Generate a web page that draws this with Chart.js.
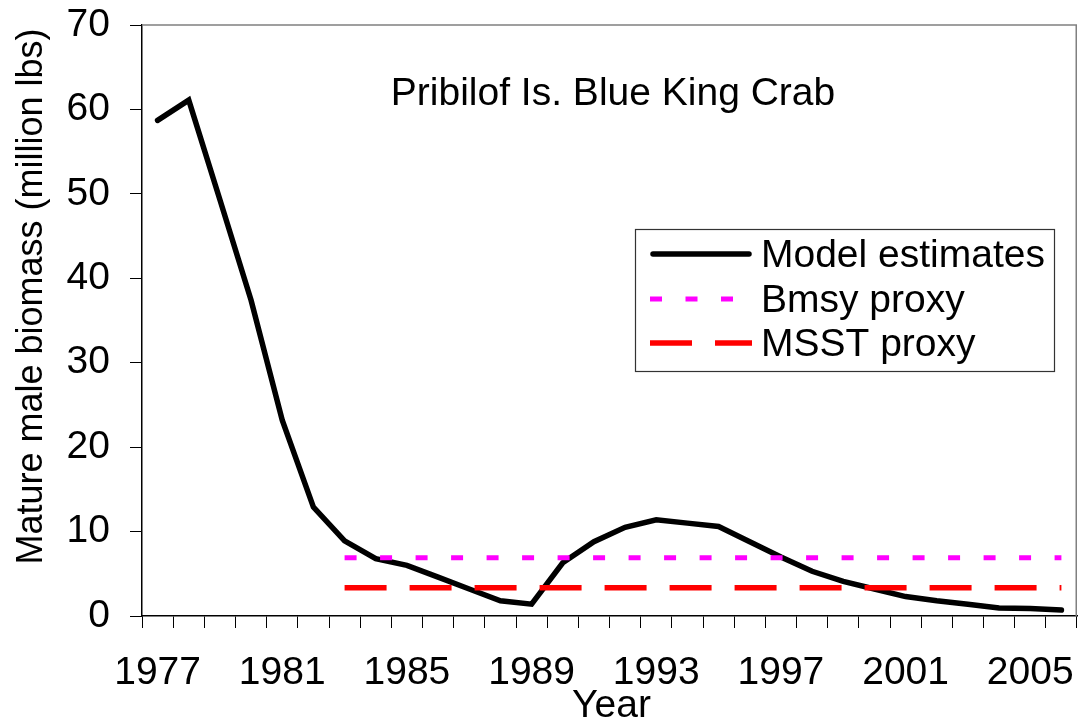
<!DOCTYPE html>
<html>
<head>
<meta charset="utf-8">
<script src="https://cdn.jsdelivr.net/npm/chart.js@4/dist/chart.umd.min.js"></script>
<style>
  html, body { margin: 0; padding: 0; background: #ffffff; }
  #wrap { width: 1079px; height: 719px; position: relative; }
</style>
</head>
<body>
<div id="wrap"><canvas id="c" width="1079" height="719"></canvas></div>
<script>
const years = ['1977','1978','1979','1980','1981','1982','1983','1984','1985','1986',
               '1987','1988','1989','1990','1991','1992','1993','1994','1995','1996',
               '1997','1998','1999','2000','2001','2002','2003','2004','2005','2006'];
const modelEstimates = [58.7, 61.1, 49.3, 37.4, 23.2, 12.9, 8.9, 6.8, 6.0, 4.6,
                        3.2, 1.8, 1.4, 6.3, 8.8, 10.5, 11.4, 11.0, 10.6, 8.8,
                        7.0, 5.3, 4.1, 3.2, 2.3, 1.8, 1.4, 0.95, 0.9, 0.7];
const bmsyProxy = [null, null, null, null, null, null, 6.9, 6.9, 6.9, 6.9,
                   6.9, 6.9, 6.9, 6.9, 6.9, 6.9, 6.9, 6.9, 6.9, 6.9,
                   6.9, 6.9, 6.9, 6.9, 6.9, 6.9, 6.9, 6.9, 6.9, 6.9];
const msstProxy = [null, null, null, null, null, null, 3.35, 3.35, 3.35, 3.35,
                   3.35, 3.35, 3.35, 3.35, 3.35, 3.35, 3.35, 3.35, 3.35, 3.35,
                   3.35, 3.35, 3.35, 3.35, 3.35, 3.35, 3.35, 3.35, 3.35, 3.35];
const yTicks = [0, 10, 20, 30, 40, 50, 60, 70];
const chartTitle = 'Pribilof Is. Blue King Crab';
const xTitle = 'Year';
const yTitle = 'Mature male biomass (million lbs)';
const seriesNames = ['Model estimates', 'Bmsy proxy', 'MSST proxy'];

const FONT = '"Liberation Sans", Arial, sans-serif';

const overlay = {
  id: 'overlay',
  beforeDatasetsDraw(chart) {
    const ctx = chart.ctx, a = chart.chartArea;
    ctx.save();
    ctx.strokeStyle = '#808080';
    ctx.lineWidth = 1.5;
    ctx.beginPath();
    ctx.moveTo(a.left, a.top);
    ctx.lineTo(a.right - 0.75, a.top);
    ctx.lineTo(a.right - 0.75, a.bottom);
    ctx.stroke();
    ctx.restore();
  },
  afterDraw(chart) {
    const ctx = chart.ctx, a = chart.chartArea;
    ctx.save();
    ctx.fillStyle = '#000000';
    ctx.font = '39px ' + FONT;
    ctx.textAlign = 'center';
    ctx.textBaseline = 'alphabetic';
    ctx.fillText(chartTitle, 613, 105);
    ctx.fillText(xTitle, (a.left + a.right) / 2 + 2, 717);
    ctx.save();
    ctx.font = '36px ' + FONT;
    ctx.translate(42, 296.5);
    ctx.rotate(-Math.PI / 2);
    ctx.fillText(yTitle, 0, 0);
    ctx.restore();

    const bx = 635, by = 229, bw = 419, bh = 142;
    ctx.fillStyle = '#ffffff';
    ctx.fillRect(bx, by, bw, bh);
    ctx.strokeStyle = '#333333';
    ctx.lineWidth = 1.2;
    ctx.strokeRect(bx + 0.5, by + 0.5, bw, bh);
    const rows = [254, 299, 343];
    chart.data.datasets.forEach((ds, i) => {
      const y = rows[i];
      ctx.save();
      ctx.strokeStyle = ds.borderColor;
      ctx.lineWidth = ds.borderWidth;
      ctx.lineCap = ds.borderCapStyle || 'butt';
      ctx.setLineDash(ds.borderDash || []);
      ctx.beginPath();
      ctx.moveTo(i === 0 ? 653 : 650, y);
      ctx.lineTo(i === 0 ? 749 : 752, y);
      ctx.stroke();
      ctx.restore();
      ctx.fillStyle = '#000000';
      ctx.textAlign = 'left';
      ctx.textBaseline = 'middle';
      ctx.font = '39px ' + FONT;
      ctx.fillText(ds.label, 761, y + 2);
    });
    ctx.restore();
  }
};

new Chart(document.getElementById('c'), {
  type: 'line',
  data: {
    labels: years,
    datasets: [
      { label: seriesNames[0], data: modelEstimates, borderColor: '#000000', borderWidth: 5.5,
        borderCapStyle: 'round', borderJoinStyle: 'miter', pointRadius: 0, tension: 0, fill: false, order: 3 },
      { label: seriesNames[1], data: bmsyProxy, borderColor: '#ff00ff', borderWidth: 5,
        borderDash: [12, 23.5], borderCapStyle: 'butt', pointRadius: 0, tension: 0, fill: false, order: 1 },
      { label: seriesNames[2], data: msstProxy, borderColor: '#ff0000', borderWidth: 5.5,
        borderDash: [42, 23], borderCapStyle: 'butt', pointRadius: 0, tension: 0, fill: false, order: 2 }
    ]
  },
  options: {
    responsive: false,
    animation: false,
    devicePixelRatio: 1,
    layout: { padding: { top: 25, right: 2, left: 0, bottom: 0 } },
    plugins: { legend: { display: false }, title: { display: false }, tooltip: { enabled: false } },
    scales: {
      x: {
        type: 'category',
        offset: true,
        grid: { offset: true, drawOnChartArea: false, drawTicks: true, tickLength: 12, color: '#000000', lineWidth: 1 },
        border: { display: true, color: '#000000', width: 1.5 },
        ticks: {
          autoSkip: false, maxRotation: 0, minRotation: 0, padding: 22, color: '#000000',
          font: { family: FONT, size: 39 },
          callback: function(value, index) { return index % 4 === 0 ? this.getLabelForValue(value) : ''; }
        },
        afterFit(scale) { scale.height = 103; scale.paddingLeft = 0; scale.paddingRight = 0; }
      },
      y: {
        min: 0, max: 70,
        afterBuildTicks(scale) { scale.ticks = yTicks.map(v => ({ value: v })); },
        grid: { drawOnChartArea: false, drawTicks: true, tickLength: 12, color: '#000000', lineWidth: 1 },
        border: { display: true, color: '#000000', width: 1.5 },
        ticks: { padding: 20, color: '#000000', font: { family: FONT, size: 39 } },
        afterFit(scale) { scale.width = 142; scale.paddingTop = 0; scale.paddingBottom = 0; }
      }
    }
  },
  plugins: [overlay]
});
</script>
</body>
</html>
